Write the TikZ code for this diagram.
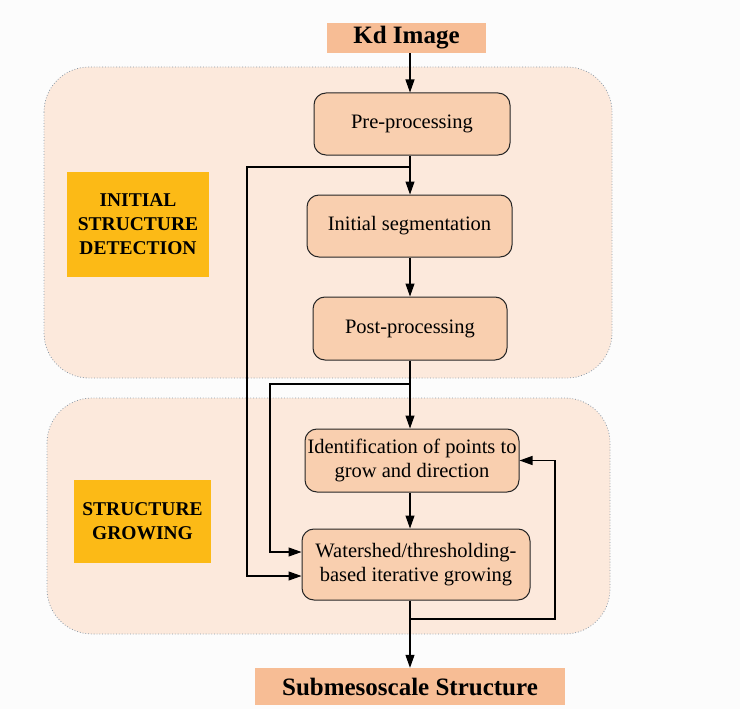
\documentclass[tikz,border=0pt]{standalone}
\usepackage{fontspec}
\setmainfont{Liberation Serif}
\usetikzlibrary{arrows.meta}
\definecolor{panelfill}{HTML}{FCE9DC}
\definecolor{boxfill}{HTML}{F9CFAF}
\definecolor{endfill}{HTML}{F7BD95}
\definecolor{gold}{HTML}{FCBA16}
\definecolor{panelline}{HTML}{8A9AA8}
\begin{document}
\begin{tikzpicture}[x=1pt,y=-1pt,
 panel/.style={fill=panelfill, draw=panelline, dotted, line width=0.8pt, rounded corners=45pt},
 stepbox/.style={draw=black!85, fill=boxfill, rounded corners=12pt, line width=1pt, align=center, font=\fontsize{20.5}{24}\selectfont, inner sep=2pt},
 endbox/.style={fill=endfill, inner sep=0pt, font=\bfseries\fontsize{25}{28}\selectfont},
 phase/.style={fill=gold, align=center, inner sep=0pt, font=\bfseries\fontsize{19.5}{24}\selectfont},
 flow/.style={draw=black, line width=1.1pt, -{Triangle[length=13pt,width=9pt]}},
 link/.style={draw=black, line width=1.1pt}]
\useasboundingbox (0,0) rectangle (740,709);
\fill[white!98!gray] (0,0) rectangle (740,709);
\draw[panel] (44,67) rectangle (612,378);
\draw[panel] (47,398) rectangle (610,634);
\coordinate (spine) at (410,0);
\node[endbox, minimum width=159pt, minimum height=30pt] (kd) at (406.5,38) {Kd Image};
\node[stepbox, minimum width=196pt, minimum height=62pt] (pre) at (412,124) {Pre-processing};
\node[stepbox, minimum width=205pt, minimum height=62pt] (seg) at (409.5,226) {Initial segmentation};
\node[stepbox, minimum width=194pt, minimum height=63pt] (post) at (410,328.5) {Post-processing};
\node[stepbox, minimum width=214pt, minimum height=63pt] (ident) at (412,460.5) {Identification of points to\\grow and direction};
\node[stepbox, minimum width=228pt, minimum height=71pt] (ws) at (416,564.5) {Watershed/thresholding-\\based iterative growing};
\node[endbox, minimum width=310pt, minimum height=37pt] (sub) at (410,686.5) {Submesoscale Structure};
\node[phase, minimum width=142pt, minimum height=105pt] (isd) at (138,224.5) {INITIAL\\STRUCTURE\\DETECTION};
\node[phase, minimum width=137pt, minimum height=83pt] (sg) at (142.5,521.5) {STRUCTURE\\GROWING};
\coordinate (b1) at (410,167);
\coordinate (b1l) at (247,167);
\coordinate (b2) at (410,384);
\coordinate (b2l) at (270,384);
\coordinate (b3) at (410,619);
\coordinate (b3r) at (555,619);
\draw[flow] (kd.south -| spine) -- (pre.north -| spine);
\draw[flow] (pre.south -| spine) -- (seg.north -| spine);
\draw[flow] (seg.south -| spine) -- (post.north -| spine);
\draw[flow] (post.south -| spine) -- (ident.north -| spine);
\draw[flow] (ident.south -| spine) -- (ws.north -| spine);
\draw[flow] (ws.south -| spine) -- (sub.north -| spine);
\draw[flow] (b1) -- (b1l) -- (b1l |- 0,576) -- (ws.west |- 0,576);
\draw[flow] (b2) -- (b2l) -- (b2l |- 0,552) -- (ws.west |- 0,552);
\draw[flow] (b3) -- (b3r) -- (b3r |- ident.east) -- (ident.east);
\end{tikzpicture}
\end{document}
